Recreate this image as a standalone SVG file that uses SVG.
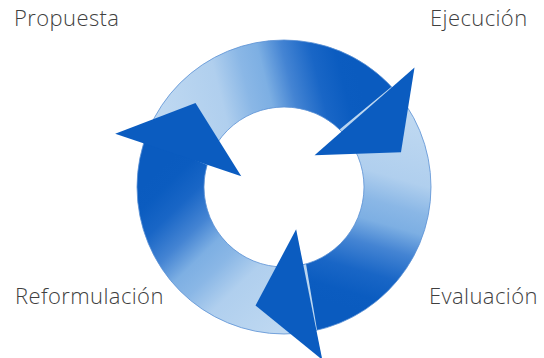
<svg xmlns="http://www.w3.org/2000/svg" width="544" height="358" viewBox="0 0 544 358">
  <style>
    .label { font-family: "Open Sans", "Liberation Sans", sans-serif; font-size: 22px; font-weight: 300; letter-spacing: 0.4px; fill: #3f3f3f; }
    .body { fill: url(#arrowGrad); }
    .head { fill: #0b5cc0; }
    .rim { fill: none; stroke: #5b91d4; stroke-width: 0.8; }
  </style>
  <defs>
    <linearGradient id="arrowGrad" gradientUnits="userSpaceOnUse" x1="-109.6" y1="-31.4" x2="82" y2="-79.2">
      <stop offset="0" stop-color="#bed8f1"/>
      <stop offset="0.3" stop-color="#b0cfee"/>
      <stop offset="0.44" stop-color="#8ab7e6"/>
      <stop offset="0.54" stop-color="#7dafe3"/>
      <stop offset="0.66" stop-color="#4484d3"/>
      <stop offset="0.8" stop-color="#1966c6"/>
      <stop offset="0.92" stop-color="#0b5cc0"/>
      <stop offset="1" stop-color="#0a5bbf"/>
    </linearGradient>
  </defs>
  <rect width="544" height="358" fill="#ffffff"/>
  <g id="connectors">
    <g id="arrow-bodies">
      <path id="arrow-propuesta-ejecucion-body" class="body" transform="translate(284,187)" d="M -140.58 -42.98 A 147 147 0 0 1 110.94 -96.44 L 57.55 -55.57 A 80 80 0 0 0 -77.62 -19.35 Z"/>
      <path id="arrow-ejecucion-evaluacion-body" class="body" transform="translate(284,187) rotate(120)" d="M -140.58 -42.98 A 147 147 0 0 1 110.94 -96.44 L 57.55 -55.57 A 80 80 0 0 0 -77.62 -19.35 Z"/>
      <path id="arrow-evaluacion-reformulacion-body" class="body" transform="translate(284,187) rotate(240)" d="M -140.58 -42.98 A 147 147 0 0 1 110.94 -96.44 L 57.55 -55.57 A 80 80 0 0 0 -77.62 -19.35 Z"/>
      <circle class="rim" cx="284" cy="187" r="147"/>
      <circle class="rim" cx="284" cy="187" r="80"/>
    </g>
    <g id="arrow-heads">
      <path id="arrow-propuesta-ejecucion-head" class="head" transform="translate(284,187)" d="M 30.57 -31.65 L 130.5 -119.58 L 116.97 -34.65 Z"/>
      <path id="arrow-ejecucion-evaluacion-head" class="head" transform="translate(284,187) rotate(120)" d="M 30.57 -31.65 L 130.5 -119.58 L 116.97 -34.65 Z"/>
      <path id="arrow-evaluacion-reformulacion-head" class="head" transform="translate(284,187) rotate(240)" d="M 30.57 -31.65 L 130.5 -119.58 L 116.97 -34.65 Z"/>
    </g>
  </g>
  <g id="node-propuesta"><text class="label" x="14" y="26">Propuesta</text></g>
  <g id="node-ejecucion"><text class="label" x="430" y="26">Ejecución</text></g>
  <g id="node-evaluacion"><text class="label" x="429" y="304">Evaluación</text></g>
  <g id="node-reformulacion"><text class="label" x="15" y="304">Reformulación</text></g>
</svg>
